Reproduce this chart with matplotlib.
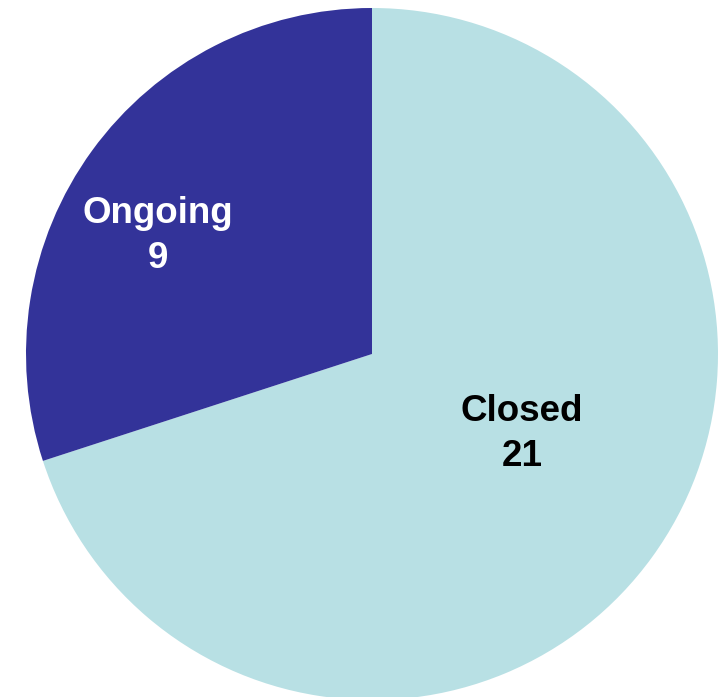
import matplotlib
matplotlib.use("Agg")
import matplotlib.pyplot as plt

# données du graphique
labels = ["Closed", "Ongoing"]
values = [21, 9]
colors = ["#B8E0E4", "#333399"]
text_colors = ["black", "white"]

fig = plt.figure(figsize=(7.21, 6.97), dpi=100)
ax = fig.add_axes([26 / 721, -3 / 697, 692 / 721, 692 / 697])

ax.pie(values, colors=colors, startangle=90, counterclock=False, radius=1,
       wedgeprops=dict(linewidth=0))

# positions des étiquettes
label_pos = [(0.434, -0.232), (-0.618, 0.340)]
for lab, val, (x, y), tc in zip(labels, values, label_pos, text_colors):
    ax.text(x, y, f"{lab}\n{val}", ha="center", va="center", color=tc,
            fontsize=26.5, fontweight="bold", family="Liberation Sans",
            linespacing=1.38)

ax.set_xlim(-1, 1)
ax.set_ylim(-1, 1)
ax.set_aspect("equal")
ax.axis("off")

fig.savefig("out.png", dpi=100)
